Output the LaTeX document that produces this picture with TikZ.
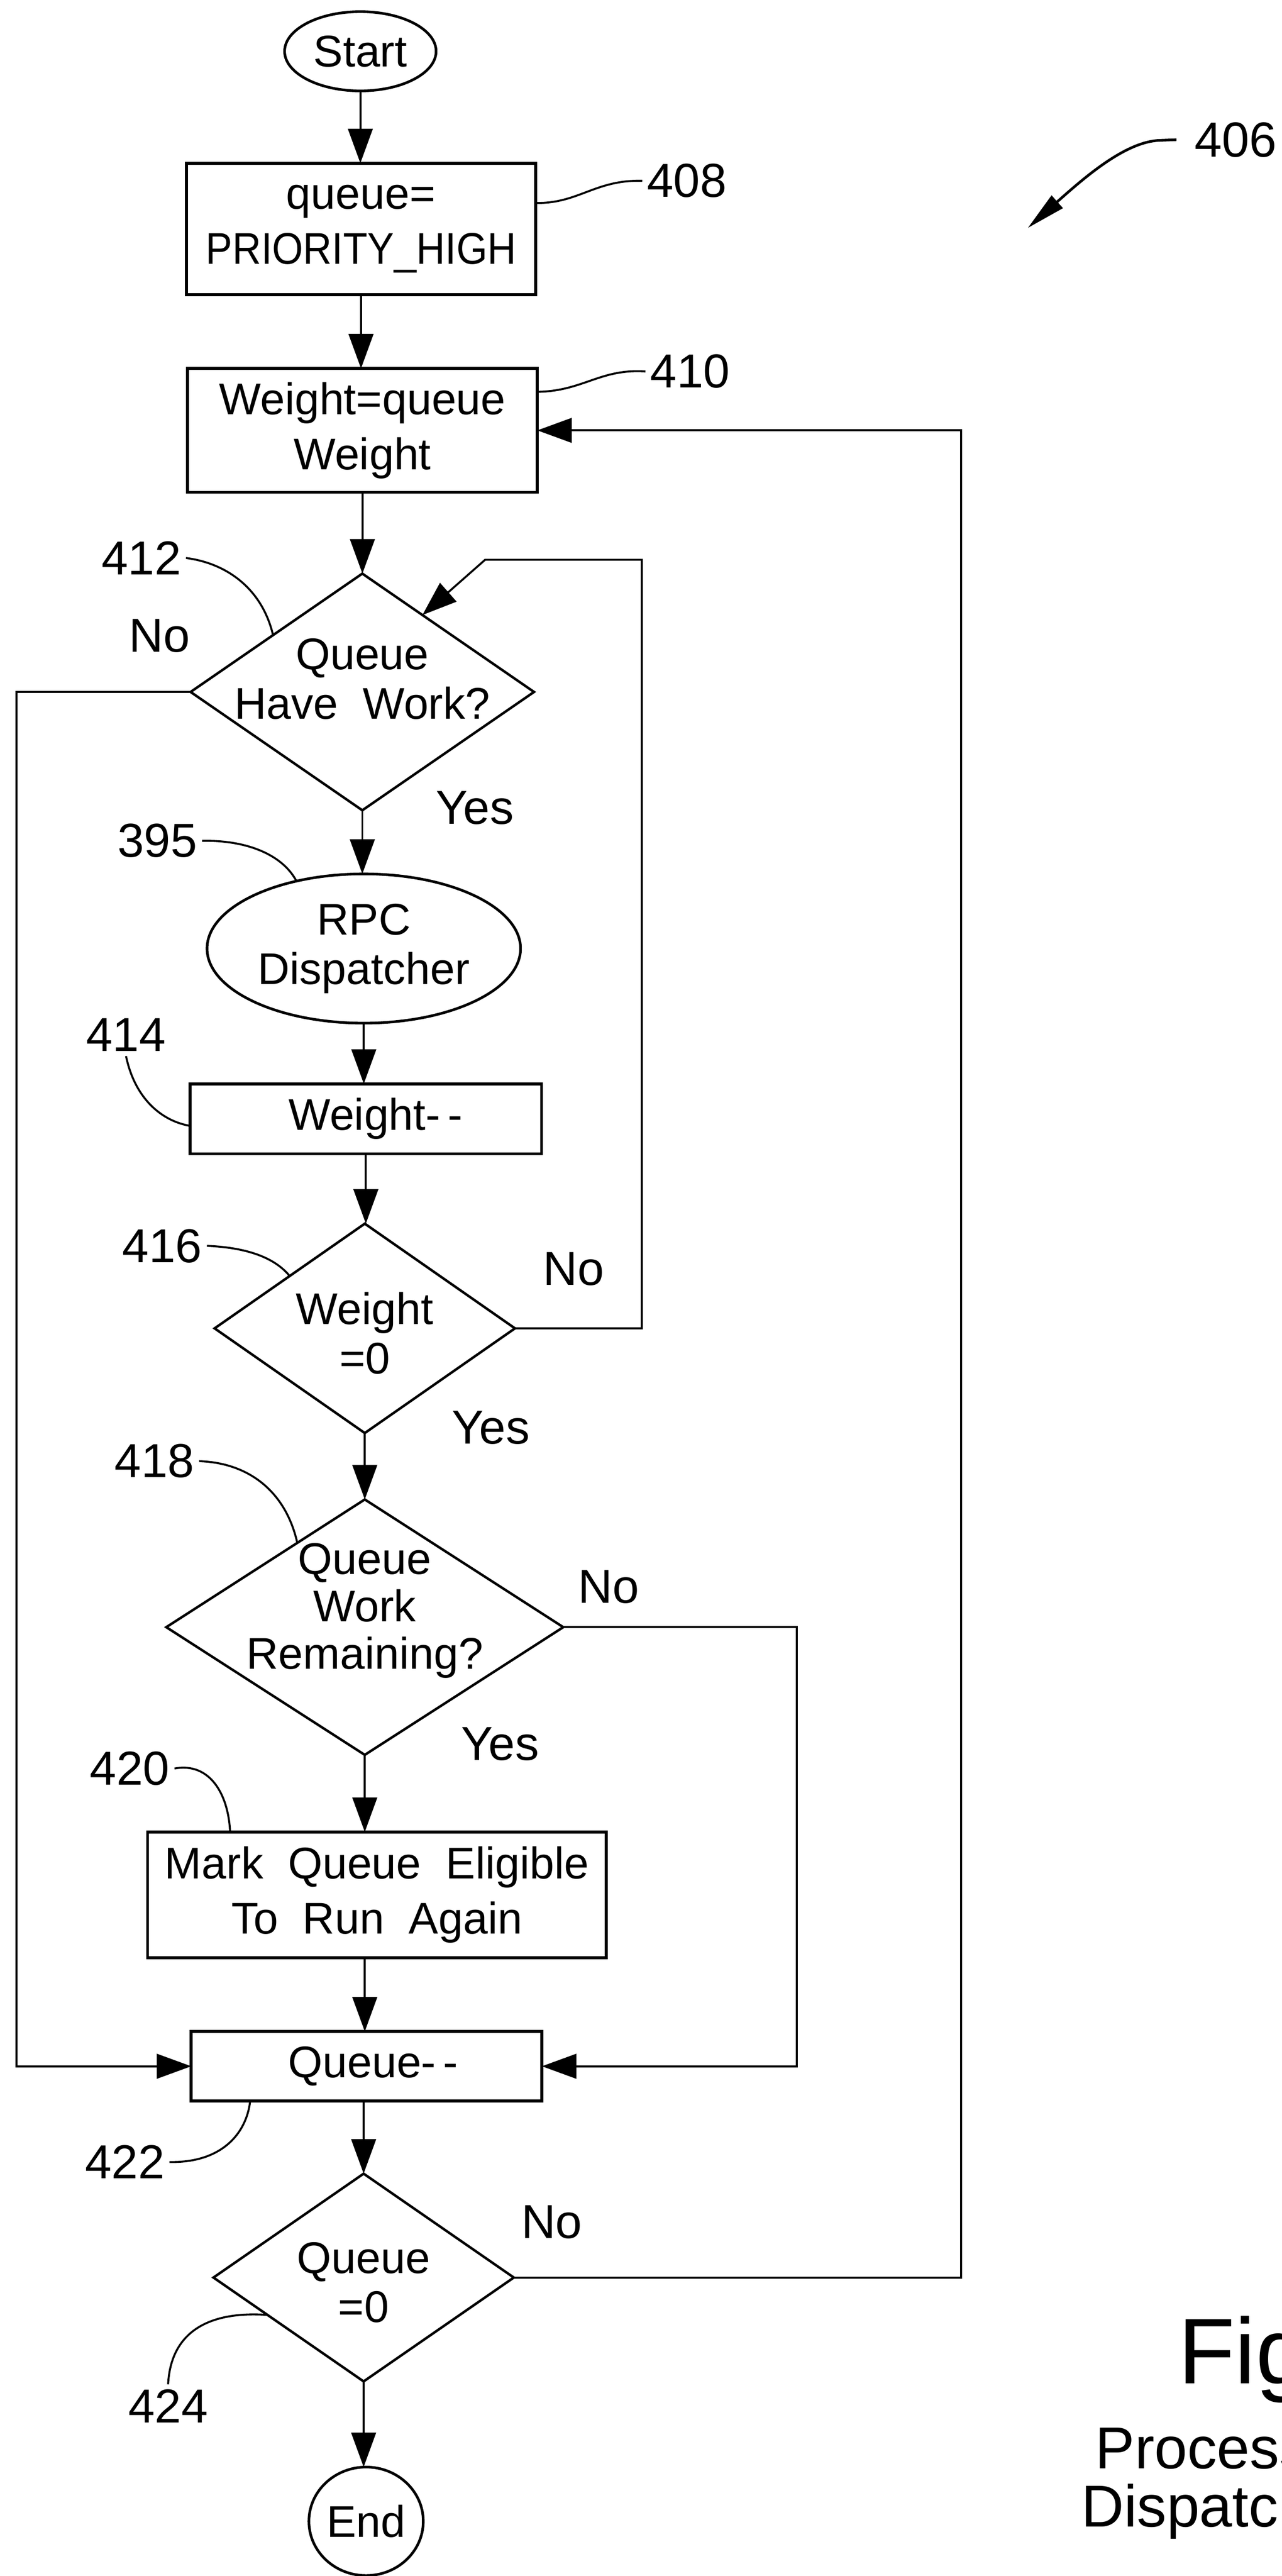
\documentclass[tikz,border=0pt]{standalone}
\usepackage{fontspec}
\setmainfont{Liberation Sans}
\usetikzlibrary{shapes.geometric,arrows.meta,calc}
\begin{document}
\begin{tikzpicture}[x=1pt,y=-1pt,
  every node/.style={font=\fontsize{27}{33.5}\selectfont, inner sep=0pt, outer sep=0pt},
  flow/.style={line width=1.2pt, -{Triangle[length=21pt,width=15pt]}},
  box/.style={draw, line width=1.8pt, rectangle, align=center},
  oval/.style={draw, line width=1.6pt, ellipse, align=center},
  dia/.style={draw, line width=1.5pt, diamond},
  dtxt/.style={align=center, font=\fontsize{27}{30}\selectfont},
  yn/.style={font=\fontsize{29}{33}\selectfont},
  num/.style={font=\fontsize{29}{33}\selectfont, inner sep=3pt},
  lead/.style={line width=1.2pt},
]
\useasboundingbox (0,0) rectangle (780,1567.3);

% ---- flow nodes ----
\node[oval, minimum width=92.2pt, minimum height=48.2pt] (start) at (219.3,31.2) {Start};
\node[box, minimum width=212.4pt, minimum height=80.1pt] (b408) at (219.7,139.35) {queue=\\\scalebox{0.9}[1]{PRIORITY\_HIGH}};
\node[box, minimum width=212.9pt, minimum height=75.3pt] (b410) at (220.55,261.85) {Weight=queue\\Weight};
\node[dia, minimum width=209pt, minimum height=144pt,
      label={[dtxt,yshift=8pt]center:{Queue\\Have~~Work?}}] (d412) at (220.5,421) {};
\node[oval, minimum width=190.8pt, minimum height=90.8pt, font=\fontsize{27}{30}\selectfont] (e395) at (221.4,577.1) {RPC\\Dispatcher};
\node[box, minimum width=213.9pt, minimum height=42.6pt] (b414) at (222.65,680.7) {\hspace{12pt}Weight-{}\,-};
\node[dia, minimum width=182.8pt, minimum height=127.4pt,
      label={[dtxt,yshift=-3pt]center:{Weight\\=0}}] (d416) at (222,808.2) {};
\node[dia, minimum width=241.6pt, minimum height=155.4pt,
      label={[dtxt,yshift=10pt,font=\fontsize{27}{28.8}\selectfont]center:{Queue\\Work\\Remaining?}}] (d418) at (222,990) {};
\node[box, minimum width=279.1pt, minimum height=76.6pt] (b420) at (229.35,1152.9) {Mark~~Queue~~Eligible\\To~~Run~~Again};
\node[box, minimum width=213.4pt, minimum height=42.3pt] (b422) at (223.1,1257.15) {\hspace{8pt}Queue-{}\,-};
\node[dia, minimum width=182.8pt, minimum height=126.4pt,
      label={[dtxt,yshift=-3pt]center:{Queue\\=0}}] (d424) at (221.3,1385.7) {};
\node[oval, minimum width=69.6pt, minimum height=66pt] (end) at (222.8,1534) {End};

% ---- main flow ----
\draw[flow] (start.south) -- (start.south |- b408.north);
\draw[flow] (b408.south) -- (b408.south |- b410.north);
\draw[flow] (b410.south) -- (b410.south |- d412.north);
\draw[flow] (d412.south) -- (d412.south |- e395.north);
\draw[flow] (e395.south) -- (e395.south |- b414.north);
\draw[flow] (b414.south) -- (b414.south |- d416.north);
\draw[flow] (d416.south) -- (d418.north);
\draw[flow] (d418.south) -- (d418.south |- b420.north);
\draw[flow] (d418.south |- b420.south) -- (d418.south |- b422.north);
\draw[flow] (d424.north |- b422.south) -- (d424.north);
\draw[flow] (d424.south) -- (d424.south |- end.north);

% ---- loops ----
\coordinate (lft) at (10,0);
\coordinate (rA) at (390.6,340.6);
\coordinate (kA) at (295.2,340.6);
\coordinate (rB) at (484.8,0);
\coordinate (rC) at (585,0);
\draw[flow] (d412.west) -- (d412.west -| lft) -- (lft |- b422.west) -- (b422.west);
\draw[flow] (d416.east) -- (d416.east -| rA) -- (rA) -- (kA) -- ($(d412.north)!0.35!(d412.east)$);
\draw[flow] (d418.east) -- (d418.east -| rB) -- (rB |- b422.east) -- (b422.east);
\draw[flow] (d424.east) -- (d424.east -| rC) -- (rC |- b410.east) -- (b410.east);

% ---- yes / no ----
\node[yn] (no412) at (97,387) {No};
\node[yn] (yes412) at (289,491.5) {Yes};
\node[yn] (no416) at (349,772) {No};
\node[yn] (yes416) at (298.7,868.6) {Yes};
\node[yn] (no418) at (370.5,965.4) {No};
\node[yn] (yes418) at (304.4,1061) {Yes};
\node[yn] (no424) at (335.8,1352) {No};

% ---- reference numerals ----
\node[num] (n408) at (418,110) {408};
\draw[lead] ($(b408.east)+(0,-15.85)$) .. controls (352,124) and (362,109.3) .. (n408.west);
\node[num] (n410) at (420,226) {410};
\draw[lead] ($(b410.east)+(0,-23.45)$) .. controls (355,238) and (365,224.2) .. (n410.west);
\node[num] (n412) at (86,339.5) {412};
\draw[lead] (n412.east) .. controls (140,343) and (160,360) .. ($(d412.west)!0.48!(d412.north)$);
\node[num] (n395) at (95.8,511.6) {395};
\draw[lead] (n395.east) .. controls (150,511) and (172,520) .. (e395.135);
\node[num] (n414) at (76.7,629.6) {414};
\draw[lead] (n414.south) .. controls (82,668) and (98,682) .. ($(b414.west)+(0,4.3)$);
\node[num] (n416) at (98.7,758) {416};
\draw[lead] (n416.east) .. controls (150,759) and (167,765) .. ($(d416.west)!0.5!(d416.north)$);
\node[num] (n418) at (94,889) {418};
\draw[lead] (n418.east) .. controls (152,890) and (174,908) .. ($(d418.west)!0.66!(d418.north)$);
\node[num] (n420) at (79,1076) {420};
\draw[lead] (n420.east) .. controls (128,1072) and (139,1092) .. ($(b420.north west)!0.18!(b420.north east)$);
\node[num] (n422) at (76,1315.4) {422};
\draw[lead] (n422.east) .. controls (135,1316) and (150,1298) .. ($(b422.south west)!0.168!(b422.south east)$);
\node[num] (n424) at (102.3,1463.8) {424};
\draw[lead] (n424.north) .. controls (104,1418) and (128,1406) .. ($(d424.west)!0.36!(d424.south)$);

\node[num, font=\fontsize{30}{34}\selectfont] (n406) at (752,85) {406};
\coordinate (a406) at (625.5,138.7);
\draw[line width=1.6pt, -{Triangle[length=24pt,width=10pt]}] ($(n406.west)+(-8,0)$) -- ++(-10,0.4) .. controls (685,86) and (660,108) .. (a406);

% ---- caption (cut by the page edge, as in the reference) ----
\node[anchor=base west, font=\fontsize{56.7}{60}\selectfont] (fig) at (717,1450.3) {Fig};
\node[anchor=base west, font=\fontsize{36}{40}\selectfont] (cap1) at (666.6,1502) {Process};
\node[anchor=base west, font=\fontsize{36}{40}\selectfont] (cap2) at (658,1537.3) {Dispatch};
\end{tikzpicture}
\end{document}
